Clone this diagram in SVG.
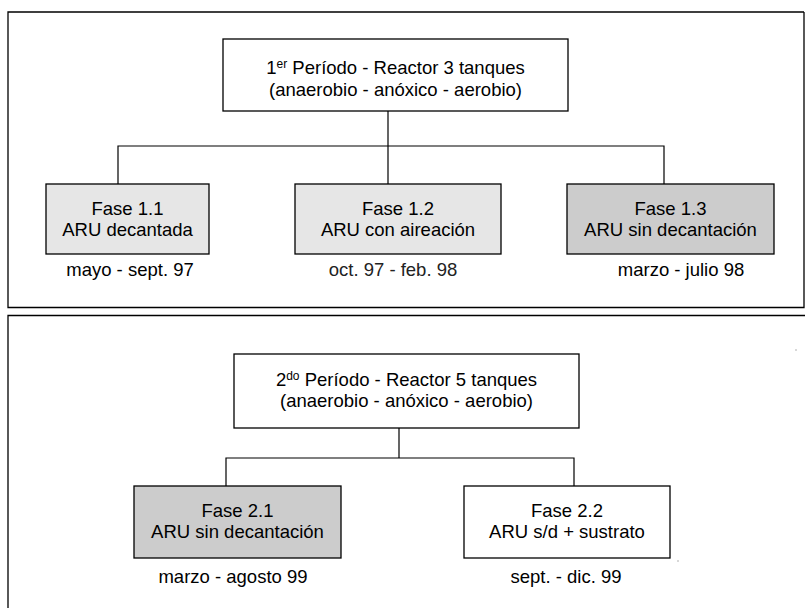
<svg xmlns="http://www.w3.org/2000/svg" width="805" height="608" viewBox="0 0 805 608">
<style>
  .frame{fill:none;stroke:#000;stroke-width:1.3}
  .box{stroke:#000;stroke-width:1.3}
  .white{fill:#fff}
  .light{fill:#e6e6e6}
  .dark{fill:#cccccc}
  .conn{fill:none;stroke:#000;stroke-width:1.2}
  text{font-family:"Liberation Sans",Arial,sans-serif;font-size:18.5px;fill:#000;text-anchor:middle}
  .sup{font-size:12px}
  .date{font-size:18.5px}
</style>
<rect width="805" height="608" fill="#fff"/>
<g id="frames">
  <path class="frame" d="M804,12 H8 V307.5 H804 V12"/>
  <path class="frame" d="M805,315.5 H8 V608"/>
</g>
<g id="connectors">
  <path class="conn" d="M388,111 V184 M118,184 V146 H664 V184"/>
  <path class="conn" d="M399,428 V458 M226,486 V458 H574 V486"/>
</g>
<g id="period1">
  <rect class="box white" x="223" y="39" width="345" height="72"/>
  <text x="395.5" y="74">1<tspan class="sup" dy="-6">er</tspan><tspan dy="6"> Período - Reactor 3 tanques</tspan></text>
  <text x="395.5" y="96">(anaerobio - anóxico - aerobio)</text>
</g>
<g id="fase11">
  <rect class="box light" x="46" y="184" width="163" height="70"/>
  <text x="127.5" y="215">Fase 1.1</text>
  <text x="127.5" y="236">ARU decantada</text>
  <text class="date" x="130" y="276">mayo - sept. 97</text>
</g>
<g id="fase12">
  <rect class="box light" x="295" y="184" width="206" height="70"/>
  <text x="398" y="215">Fase 1.2</text>
  <text x="398" y="236">ARU con aireación</text>
  <text class="date" x="393" y="276" style="fill:#222">oct. 97 - feb. 98</text>
</g>
<g id="fase13">
  <rect class="box dark" x="567" y="184" width="207" height="70"/>
  <text x="670.5" y="215">Fase 1.3</text>
  <text x="670.5" y="236">ARU sin decantación</text>
  <text class="date" x="681" y="276">marzo - julio 98</text>
</g>
<g id="period2">
  <rect class="box white" x="234" y="354" width="345" height="74"/>
  <text x="406.5" y="386">2<tspan class="sup" dy="-6">do</tspan><tspan dy="6"> Período - Reactor 5 tanques</tspan></text>
  <text x="406.5" y="407">(anaerobio - anóxico - aerobio)</text>
</g>
<g id="fase21">
  <rect class="box dark" x="134" y="486" width="207" height="72"/>
  <text x="237.5" y="517">Fase 2.1</text>
  <text x="237.5" y="538">ARU sin decantación</text>
  <text class="date" x="233" y="583">marzo - agosto 99</text>
</g>
<g id="fase22">
  <rect class="box white" x="464" y="486" width="206" height="72"/>
  <text x="567" y="517">Fase 2.2</text>
  <text x="567" y="538">ARU s/d + sustrato</text>
  <text class="date" x="566" y="583">sept. - dic. 99</text>
</g>
<g id="specks" fill="#666">
  <rect x="795.5" y="349.5" width="1" height="1"/>
  <rect x="677.5" y="560.5" width="1" height="1"/>
</g>
</svg>
